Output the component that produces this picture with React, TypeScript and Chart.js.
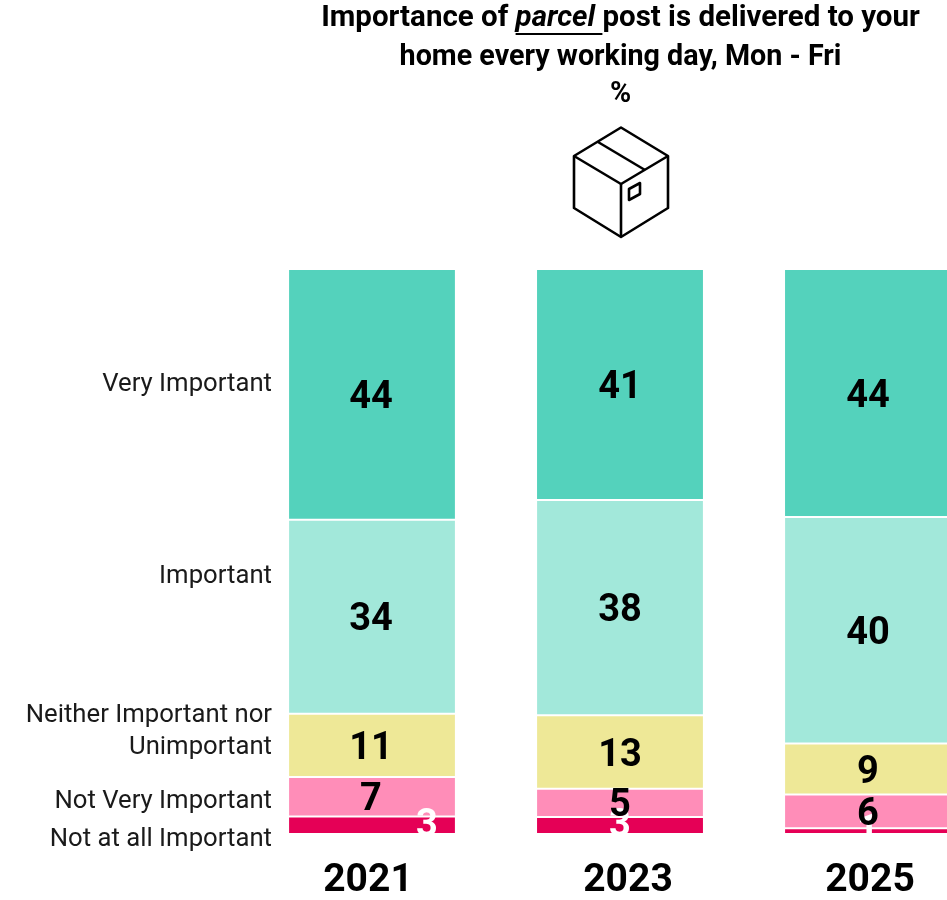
import React, { useEffect, useRef } from "react";
import { Chart, registerables } from "chart.js";

Chart.register(...registerables);

const years = ["2021", "2023", "2025"];
const seriesNames = ["Not at all Important", "Not Very Important", "Neither Important nor Unimportant", "Important", "Very Important"];
const notAtAll = [3.1, 3, 1];
const notVery = [7, 5, 6];
const neither = [11.2, 13, 9];
const important = [34.3, 38.1, 40.1];
const veryImportant = [44.4, 40.9, 43.9];
const seriesColors = ["#E50056", "#FF8DB8", "#EEE897", "#A2E8DA", "#54D2BC"];
const labelColors = ["#FFFFFF", "#000000", "#000000", "#000000", "#000000"];

const FONT = "Roboto, sans-serif";

// Where the row captions sit, on the y scale.
const rowCaptions: [string[], number][] = [
  [["Very Important"], 79.5],
  [["Important"], 45.5],
  [["Neither Important nor", "Unimportant"], 18.2],
  [["Not Very Important"], 5.8],
  [["Not at all Important"], -0.9],
];
const yearOffsets = [-4, 8, 2];

const overlay = {
  id: "overlay",
  afterDatasetsDraw(chart: any) {
    const { ctx, scales } = chart;
    ctx.save();
    ctx.textBaseline = "middle";

    // value labels
    ctx.textAlign = "center";
    ctx.font = `700 38px ${FONT}`;
    chart.data.datasets.forEach((ds: any, d: number) => {
      const meta = chart.getDatasetMeta(d);
      meta.data.forEach((bar: any, i: number) => {
        const c = bar.getCenterPoint();
        const dx = d === 0 && i === 0 ? 56 : 0;
        ctx.fillStyle = labelColors[d];
        ctx.fillText(String(Math.round(ds.data[i])), c.x + dx - (i === 0 ? 1 : 0), c.y + (d === 0 ? 1 : 4));
      });
    });

    // year labels
    ctx.fillStyle = "#000";
    ctx.font = `700 39px ${FONT}`;
    years.forEach((y, i) => {
      ctx.fillText(y, scales.x.getPixelForValue(i) + yearOffsets[i], 881);
    });

    // row captions
    ctx.textAlign = "right";
    ctx.font = `400 25.7px ${FONT}`;
    ctx.fillStyle = "#1a1a1a";
    rowCaptions.forEach(([lines, v]) => {
      const yc = scales.y.getPixelForValue(v);
      lines.forEach((l, k) => {
        ctx.fillText(l, 272, yc + (k - (lines.length - 1) / 2) * 32);
      });
    });

    // title
    const cx = 620.5;
    ctx.fillStyle = "#000";
    const bold = `700 29.5px ${FONT}`;
    const ital = `italic 700 29.5px ${FONT}`;
    const parts: [string, string][] = [["Importance of ", bold], ["parcel ", ital], ["post is delivered to your", bold]];
    let total = 0;
    parts.forEach(([t, f]) => { ctx.font = f; total += ctx.measureText(t).width; });
    let x = cx - total / 2;
    ctx.textAlign = "left";
    parts.forEach(([t, f]) => {
      ctx.font = f;
      const w = ctx.measureText(t).width;
      ctx.fillText(t, x, 19);
      if (f === ital) ctx.fillRect(x, 33, w, 2);
      x += w;
    });
    ctx.textAlign = "center";
    ctx.font = `700 28.7px ${FONT}`;
    ctx.fillText("home every working day, Mon - Fri", cx, 58);
    ctx.fillText("%", cx, 95);

    // parcel icon
    ctx.strokeStyle = "#000";
    ctx.lineWidth = 2.6;
    ctx.lineJoin = "round";
    const poly = (pts: number[][], close = false) => {
      ctx.beginPath();
      pts.forEach((p, i) => (i ? ctx.lineTo(p[0], p[1]) : ctx.moveTo(p[0], p[1])));
      if (close) ctx.closePath();
      ctx.stroke();
    };
    poly([[621, 127.5], [668, 156], [668, 208], [621, 237], [574, 208], [574, 156]], true);
    poly([[574, 156], [621, 184], [668, 156]]);
    poly([[621, 184], [621, 237]]);
    poly([[598, 142], [645, 170]]);
    poly([[629, 189], [640, 183], [640, 194], [629, 200]], true);
    ctx.restore();
  },
};

export default function App() {
  const ref = useRef<HTMLCanvasElement>(null);
  useEffect(() => {
    const chart = new Chart(ref.current!, {
      type: "bar",
      data: {
        labels: years,
        datasets: [notAtAll, notVery, neither, important, veryImportant].map((data, i) => ({
          label: seriesNames[i],
          data,
          backgroundColor: seriesColors[i],
          borderColor: "#FFFFFF",
          borderWidth: { top: 1, bottom: 1, left: 0, right: 0 },
          borderSkipped: false,
          barPercentage: 0.669,
          categoryPercentage: 1,
        })),
      },
      options: {
        responsive: false,
        animation: false,
        layout: { padding: { left: 248, right: 0, top: 269, bottom: 66 } },
        plugins: { legend: { display: false }, title: { display: false }, tooltip: { enabled: false } },
        scales: {
          x: { stacked: true, display: false },
          y: { stacked: true, display: false, min: 0, max: 100 },
        },
      },
      plugins: [overlay],
    });
    return () => chart.destroy();
  }, []);
  return (
    <div style={{ position: "fixed", left: 0, top: 0, width: 947, height: 900, overflow: "hidden", background: "#fff" }}>
      <canvas ref={ref} width={992} height={900} style={{ display: "block" }} />
    </div>
  );
}
